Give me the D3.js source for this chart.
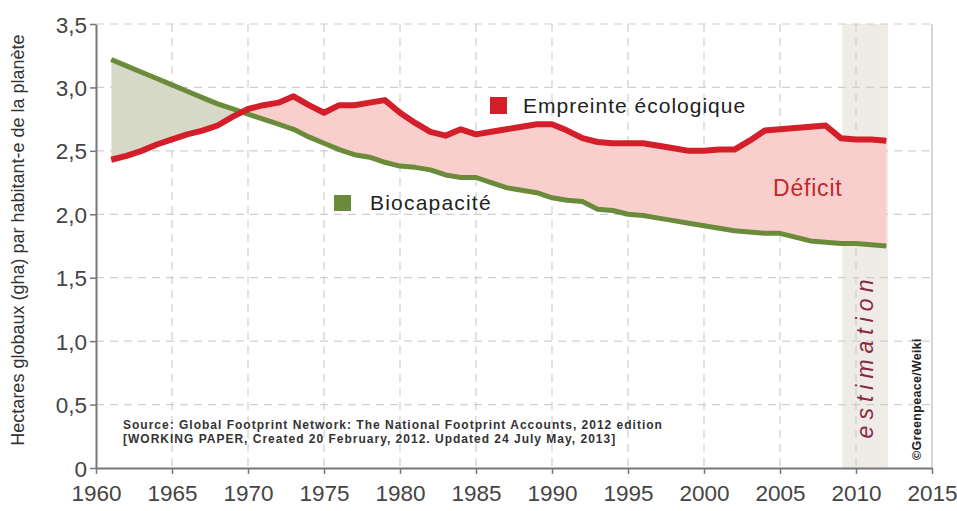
<!DOCTYPE html>
<html>
<head>
<meta charset="utf-8">
<script src="https://cdn.jsdelivr.net/npm/d3@7"></script>
<style>
  body { margin: 0; background: #fff; }
  text { font-family: "Liberation Sans", Arial, sans-serif; }
</style>
</head>
<body>
<script>
// values (gha per person)
var years = [1961,1962,1963,1964,1965,1966,1967,1968,1969,1970,
             1971,1972,1973,1974,1975,1976,1977,1978,1979,1980,
             1981,1982,1983,1984,1985,1986,1987,1988,1989,1990,
             1991,1992,1993,1994,1995,1996,1997,1998,1999,2000,
             2001,2002,2003,2004,2005,2006,2007,2008,2009,2010,
             2011,2012];
var empreinte = [2.43,2.46,2.50,2.55,2.59,2.63,2.66,2.70,2.77,2.83,
                 2.86,2.88,2.93,2.86,2.80,2.86,2.86,2.88,2.90,2.80,
                 2.72,2.65,2.62,2.67,2.63,2.65,2.67,2.69,2.71,2.71,
                 2.66,2.60,2.57,2.56,2.56,2.56,2.54,2.52,2.50,2.50,
                 2.51,2.51,2.58,2.66,2.67,2.68,2.69,2.70,2.60,2.59,
                 2.59,2.58];
var biocapacite = [3.22,3.17,3.12,3.07,3.02,2.97,2.92,2.87,2.83,2.79,
                   2.75,2.71,2.67,2.61,2.56,2.51,2.47,2.45,2.41,2.38,
                   2.37,2.35,2.31,2.29,2.29,2.25,2.21,2.19,2.17,2.13,
                   2.11,2.10,2.04,2.03,2.00,1.99,1.97,1.95,1.93,1.91,
                   1.89,1.87,1.86,1.85,1.85,1.82,1.79,1.78,1.77,1.77,
                   1.76,1.75];
var xTicks = [1960,1965,1970,1975,1980,1985,1990,1995,2000,2005,2010,2015];
var yTicks = [0,0.5,1,1.5,2,2.5,3,3.5];
var estimation = [2009.1, 2012.1];

var W = 957, H = 511;
var svg = d3.select("body").append("svg")
    .attr("width", W).attr("height", H);

var x = d3.scaleLinear().domain([1960, 2015]).range([96, 932]);
var y = d3.scaleLinear().domain([0, 3.5]).range([468, 24]);

var data = years.map(function(yr, i){
    return {year: yr, e: empreinte[i], b: biocapacite[i]};
});

// estimation band
svg.append("rect")
    .attr("x", x(estimation[0])).attr("y", y(3.5))
    .attr("width", x(estimation[1]) - x(estimation[0]))
    .attr("height", y(0) - y(3.5))
    .attr("fill", "#efebe6");

// grid
svg.append("g").selectAll("line").data(yTicks.slice(1))
    .enter().append("line")
    .attr("x1", x(1960)).attr("x2", x(2015))
    .attr("y1", function(d){ return y(d); })
    .attr("y2", function(d){ return y(d); })
    .attr("stroke", "#cfcfcf").attr("stroke-width", 1.2)
    .attr("stroke-dasharray", "8,6");
svg.append("g").selectAll("line").data(xTicks.slice(1, -1))
    .enter().append("line")
    .attr("x1", function(d){ return x(d); })
    .attr("x2", function(d){ return x(d); })
    .attr("y1", y(3.5)).attr("y2", y(0))
    .attr("stroke", "#cfcfcf").attr("stroke-width", 1.2)
    .attr("stroke-dasharray", "8,6");
svg.append("line")
    .attr("x1", x(2015)).attr("x2", x(2015))
    .attr("y1", y(3.5)).attr("y2", y(0))
    .attr("stroke", "#c8c8c8").attr("stroke-width", 1.5);

// clip paths for the two fills
var defs = svg.append("defs");
defs.append("clipPath").attr("id", "aboveBio")
  .append("path").datum(data)
    .attr("d", d3.area()
        .x(function(d){ return x(d.year); })
        .y0(0)
        .y1(function(d){ return y(d.b); }));
defs.append("clipPath").attr("id", "belowBio")
  .append("path").datum(data)
    .attr("d", d3.area()
        .x(function(d){ return x(d.year); })
        .y0(H)
        .y1(function(d){ return y(d.b); }));

var between = d3.area()
    .x(function(d){ return x(d.year); })
    .y0(function(d){ return y(d.b); })
    .y1(function(d){ return y(d.e); });

svg.append("path").datum(data)
    .attr("clip-path", "url(#aboveBio)")
    .attr("d", between)
    .attr("fill", "#f8cfcc");
svg.append("path").datum(data)
    .attr("clip-path", "url(#belowBio)")
    .attr("d", between)
    .attr("fill", "#d6d9c5");

// lines
svg.append("path").datum(data)
    .attr("d", d3.line()
        .x(function(d){ return x(d.year); })
        .y(function(d){ return y(d.b); }))
    .attr("fill", "none").attr("stroke", "#6a8c3a")
    .attr("stroke-width", 5).attr("stroke-linejoin", "round");
svg.append("path").datum(data)
    .attr("d", d3.line()
        .x(function(d){ return x(d.year); })
        .y(function(d){ return y(d.e); }))
    .attr("fill", "none").attr("stroke", "#d41f2b")
    .attr("stroke-width", 6).attr("stroke-linejoin", "round");

// axes
var xAxis = svg.append("g")
    .attr("transform", "translate(0," + y(0) + ")")
    .call(d3.axisBottom(x).tickValues(xTicks).tickFormat(d3.format("d"))
        .tickSize(6).tickSizeOuter(0).tickPadding(11));
var yAxis = svg.append("g")
    .attr("transform", "translate(" + x(1960) + ",0)")
    .call(d3.axisLeft(y).tickValues(yTicks)
        .tickFormat(function(d){ return d === 0 ? "0" : d3.format(".1f")(d).replace(".", ","); })
        .tickSize(6).tickSizeOuter(0).tickPadding(3));
[xAxis, yAxis].forEach(function(g){
    g.select(".domain").attr("stroke", "#777").attr("stroke-width", 2);
    g.selectAll(".tick line").attr("stroke", "#777").attr("stroke-width", 1.5);
    g.selectAll(".tick text")
        .attr("fill", "#444")
        .style("font-family", "'Liberation Sans', Arial, sans-serif")
        .style("font-size", "22.5px");
});
yAxis.selectAll(".tick text").attr("dy", "0.36em");

// y label
svg.append("text")
    .attr("transform", "translate(24,240) rotate(-90)")
    .attr("text-anchor", "middle")
    .attr("fill", "#333")
    .style("font-size", "18px")
    .text("Hectares globaux (gha) par habitant-e de la planète");

// legend
svg.append("rect").attr("x", 490).attr("y", 97).attr("width", 17).attr("height", 17)
    .attr("fill", "#d41f2b");
svg.append("text").attr("x", 523).attr("y", 113)
    .attr("fill", "#222").style("font-size", "21px").style("letter-spacing", "1px")
    .text("Empreinte écologique");
svg.append("rect").attr("x", 334).attr("y", 195).attr("width", 17).attr("height", 16)
    .attr("fill", "#6a8c3a");
svg.append("text").attr("x", 370).attr("y", 210)
    .attr("fill", "#222").style("font-size", "21px").style("letter-spacing", "1.2px")
    .text("Biocapacité");

svg.append("text").attr("x", 773).attr("y", 196)
    .attr("fill", "#c1272d").style("font-size", "23px").style("letter-spacing", "0.8px")
    .text("Déficit");

// estimation label
svg.append("text")
    .attr("transform", "translate(873,356) rotate(-90)")
    .attr("text-anchor", "middle")
    .attr("fill", "#8a2944")
    .style("font-size", "23px").style("font-style", "italic")
    .style("letter-spacing", "6px")
    .text("estimation");

// credit
svg.append("text")
    .attr("transform", "translate(921,399) rotate(-90)")
    .attr("text-anchor", "middle")
    .attr("fill", "#222")
    .style("font-size", "12.5px").style("font-weight", "bold")
    .style("letter-spacing", "0.3px")
    .text("©Greenpeace/Weiki");

// source
var src = svg.append("text").attr("fill", "#333")
    .style("font-size", "12px").style("font-weight", "bold")
    .style("letter-spacing", "1px");
src.append("tspan").attr("x", 123).attr("y", 429)
    .text("Source: Global Footprint Network: The National Footprint Accounts, 2012 edition");
src.append("tspan").attr("x", 123).attr("y", 443)
    .text("[WORKING PAPER, Created 20 February, 2012. Updated 24 July May, 2013]");
</script>
</body>
</html>
